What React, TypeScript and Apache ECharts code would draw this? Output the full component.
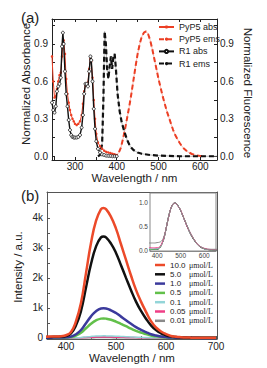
import React, { useEffect, useRef } from "react";
import * as echarts from "echarts";

// ---------- Panel (a) data ----------
const absX = [245, 248, 251, 254, 257, 260, 263, 266, 269, 271, 273, 276, 279, 282, 285, 288, 291, 294, 297, 300, 304, 308, 312, 316, 319, 322, 325, 328, 331, 334, 337, 339, 342, 345, 348, 351, 355, 360, 365, 370, 375, 380, 385, 390, 395, 400];
const pyp5Abs = [0.80, 0.60, 0.47, 0.48, 0.54, 0.60, 0.65, 0.67, 0.80, 0.90, 0.93, 0.82, 0.62, 0.50, 0.43, 0.37, 0.33, 0.30, 0.28, 0.26, 0.25, 0.26, 0.28, 0.33, 0.42, 0.52, 0.57, 0.58, 0.59, 0.70, 0.78, 0.76, 0.63, 0.45, 0.30, 0.18, 0.11, 0.08, 0.06, 0.045, 0.035, 0.03, 0.025, 0.02, 0.015, 0.01];
const r1Abs = [0.43, 0.37, 0.35, 0.40, 0.52, 0.56, 0.58, 0.63, 0.88, 0.99, 0.90, 0.68, 0.50, 0.40, 0.29, 0.21, 0.17, 0.155, 0.15, 0.15, 0.15, 0.155, 0.17, 0.23, 0.33, 0.50, 0.58, 0.58, 0.56, 0.68, 0.80, 0.77, 0.60, 0.38, 0.22, 0.12, 0.06, 0.03, 0.015, 0.01, 0.005, 0.003, 0.002, 0.0, 0.0, 0.0];

const r1EmsX = [355, 360, 365, 368, 371, 374, 377, 380, 383, 386, 389, 392, 395, 398, 402, 407, 412, 418, 425, 432, 440, 450, 460, 480, 500, 550, 600, 640];
const r1Ems = [0.0, 0.01, 0.1, 0.45, 1.0, 0.9, 0.7, 0.62, 0.72, 0.8, 0.7, 0.8, 0.82, 0.7, 0.5, 0.36, 0.27, 0.2, 0.13, 0.08, 0.05, 0.03, 0.02, 0.01, 0.005, 0.0, 0.0, 0.0];

const pyp5EmsX = [390, 400, 405, 410, 415, 420, 425, 430, 435, 440, 445, 450, 455, 460, 465, 470, 475, 480, 485, 490, 495, 500, 505, 510, 515, 520, 525, 530, 535, 540, 545, 550, 555, 560, 570, 580, 590, 600, 610];
const pyp5Ems = [0.0, 0.01, 0.03, 0.07, 0.14, 0.22, 0.31, 0.40, 0.50, 0.61, 0.72, 0.82, 0.90, 0.96, 0.99, 1.0, 0.98, 0.93, 0.86, 0.78, 0.70, 0.62, 0.55, 0.48, 0.42, 0.36, 0.31, 0.26, 0.21, 0.17, 0.14, 0.11, 0.085, 0.065, 0.035, 0.018, 0.008, 0.003, 0.0];

// ---------- Panel (b) data ----------
const emX = [360, 370, 380, 390, 400, 410, 420, 430, 440, 450, 460, 470, 475, 480, 490, 500, 510, 520, 530, 540, 550, 560, 570, 580, 590, 600, 610, 620, 630, 640, 650, 660, 670, 680, 690, 700];
const int10_0 = [40, 45, 50, 60, 90, 200, 560, 1170, 2160, 3160, 3900, 4290, 4330, 4290, 4030, 3640, 3120, 2600, 2080, 1600, 1210, 870, 560, 350, 215, 130, 65, 40, 25, 15, 10, 8, 6, 5, 5, 5];
const int5_0 = [30, 35, 40, 45, 65, 150, 420, 900, 1680, 2460, 3040, 3350, 3380, 3350, 3140, 2830, 2420, 2000, 1590, 1210, 900, 640, 420, 260, 155, 90, 50, 30, 20, 12, 8, 6, 5, 4, 4, 4];
const int1_0 = [10, 10, 12, 14, 20, 45, 125, 265, 490, 720, 890, 980, 990, 980, 920, 830, 710, 590, 470, 360, 270, 195, 125, 80, 48, 28, 15, 10, 6, 4, 3, 3, 2, 2, 2, 2];
const int0_5 = [7, 7, 8, 9, 13, 30, 82, 175, 322, 473, 585, 643, 650, 643, 605, 545, 468, 390, 310, 237, 178, 128, 82, 52, 32, 18, 10, 6, 4, 3, 3, 3, 3, 3, 3, 3];
const int0_1 = [2, 2, 2, 2, 2, 4, 9, 19, 35, 51, 63, 69, 70, 69, 65, 59, 50, 42, 34, 26, 20, 14, 9, 6, 4, 2, 1, 1, 0.5, 0.5, 0.5, 0.5, 0.5, 0.5, 0.5, 0.5];
const int0_05 = [1.5, 1.5, 1.5, 1.5, 1.6, 2.2, 4.5, 9, 16, 23, 29, 31.5, 32, 31.5, 29.5, 27, 23, 19, 15, 12, 9, 6.5, 4.2, 2.8, 1.8, 1.2, 0.8, 0.5, 0.4, 0.3, 0.3, 0.3, 0.3, 0.3, 0.3, 0.3];
const int0_01 = [1.8, 1.8, 1.8, 1.8, 1.9, 2.0, 2.4, 3.6, 6.0, 8.8, 10.8, 11.9, 12, 11.9, 11.1, 10.0, 8.6, 7.2, 5.8, 4.5, 3.4, 2.4, 1.6, 1.0, 0.7, 0.4, 0.2, 0.2, 0.2, 0.2, 0.2, 0.2, 0.2, 0.2, 0.2, 0.2];

const concNames = ["10.0", "5.0", "1.0", "0.5", "0.1", "0.05", "0.01"];
const concSeries = [int10_0, int5_0, int1_0, int0_5, int0_1, int0_05, int0_01];
const concColors = ["#ec4a2a", "#111111", "#3b3a9c", "#62c04a", "#93d5d8", "#ef3f86", "#8a8a8a"];

// tick labels
const aXLabels = [300, 400, 500, 600];
const aXTicks = [250, 300, 350, 400, 450, 500, 550, 600];
const aYLabels = [0, 0.3, 0.6, 0.9];
const aYTicks = [0, 0.15, 0.3, 0.45, 0.6, 0.75, 0.9, 1.05];
const bXLabels = [400, 500, 600, 700];
const bXTicks = [400, 450, 500, 550, 600, 650, 700];
const bYLabels = [0, 1000, 2000, 3000, 4000];
const bYTicks = [0, 500, 1000, 1500, 2000, 2500, 3000, 3500, 4000, 4500];
const inXLabels = [400, 500, 600];
const inYLabels = [0, 0.5, 1.0];

const FONT = "Liberation Sans";
const AX = "#222";
const BX = "#555";

function pairs(xs: number[], ys: number[]) {
  return xs.map((x, i) => [x, ys[i]]);
}

export default function App() {
  const ref = useRef<HTMLDivElement>(null);
  useEffect(() => {
    const chart = echarts.init(ref.current!, undefined, { renderer: "svg" });

    const axBase = (extra: any) => ({
      type: "value",
      splitLine: { show: false },
      nameMoveOverlap: false,
      axisLine: { show: true, onZero: false, lineStyle: { color: AX, width: 1 } },
      ...extra,
    });

    const series: any[] = [
      {
        name: "PyP5 abs", type: "line", xAxisIndex: 0, yAxisIndex: 0,
        data: pairs(absX, pyp5Abs), symbol: "circle", symbolSize: 2.5, showSymbol: true,
        itemStyle: { color: "#ec3f24" }, lineStyle: { color: "#ec3f24", width: 1 }, z: 3,
      },
      {
        name: "PyP5 ems thin", type: "line", xAxisIndex: 0, yAxisIndex: 1,
        data: pairs(pyp5EmsX, pyp5Ems), symbol: "none", silent: true,
        lineStyle: { color: "#f08a7a", width: 0.6 }, z: 1,
      },
      {
        name: "PyP5 ems", type: "line", xAxisIndex: 0, yAxisIndex: 1,
        data: pairs(pyp5EmsX, pyp5Ems), symbol: "none",
        itemStyle: { color: "#ec3f24" }, lineStyle: { color: "#ec3f24", width: 2, type: [5, 3] }, z: 2,
      },
      {
        name: "R1 abs", type: "line", xAxisIndex: 0, yAxisIndex: 0,
        data: pairs(absX, r1Abs), symbol: "circle", symbolSize: 3, showSymbol: true,
        itemStyle: { color: "#fff", borderColor: "#111", borderWidth: 0.8 }, lineStyle: { color: "#111", width: 1.4 }, z: 4,
      },
      {
        name: "R1 ems thin", type: "line", xAxisIndex: 0, yAxisIndex: 1,
        data: pairs(r1EmsX, r1Ems), symbol: "none", silent: true,
        lineStyle: { color: "#888", width: 0.6 }, z: 1,
      },
      {
        name: "R1 ems", type: "line", xAxisIndex: 0, yAxisIndex: 1,
        data: pairs(r1EmsX, r1Ems), symbol: "none",
        itemStyle: { color: "#111" }, lineStyle: { color: "#111", width: 2.2, type: [5, 3] }, z: 2,
      },
    ];

    concNames.forEach((n, k) => {
      series.push({
        name: n, type: "line", xAxisIndex: 2, yAxisIndex: 2,
        data: pairs(emX, concSeries[k]), symbol: "none", smooth: true,
        itemStyle: { color: concColors[k] },
        lineStyle: { color: concColors[k], width: k < 4 ? 2.5 : 1.5 },
        z: 10 - k,
      });
    });
    concNames.forEach((n, k) => {
      const arr = concSeries[k];
      const mx = Math.max(...arr);
      series.push({
        name: "inset " + n, type: "line", xAxisIndex: 4, yAxisIndex: 4,
        data: emX.map((x, i) => [x, arr[i] / mx]), symbol: "none", smooth: true,
        lineStyle: { color: concColors[k], width: 1 }, z: 20 + k,
      });
    });

    const nameText = (text: string, x: number, y: number, rot: number) => ({
      type: "text", x, y, rotation: rot, z: 50,
      style: { text, fill: AX, font: `11.5px "${FONT}"`, align: "center", verticalAlign: "middle", textAlign: "center", textVerticalAlign: "middle" },
    });

    chart.setOption({
      animation: false,
      textStyle: { fontFamily: FONT },
      title: [
        { text: "(a)", left: 16, top: 5, textStyle: { fontSize: 15, fontWeight: "normal", color: "#222", fontFamily: FONT } },
        { text: "(b)", left: 16, top: 183, textStyle: { fontSize: 15, fontWeight: "normal", color: "#222", fontFamily: FONT } },
      ],
      graphic: [
        nameText("Normalized Absorbance", 26, 84, Math.PI / 2),
        nameText("Normalized Fluorescence", 247.5, 93, -Math.PI / 2),
        nameText("Intensity / a.u.", 18, 267, Math.PI / 2),
      ],
      grid: [
        { left: 52, top: 19, width: 165, height: 141 },
        { left: 47, top: 192, width: 170, height: 147 },
        { left: 150, top: 193, width: 66, height: 58, show: true, backgroundColor: "#fff", borderColor: "#888", borderWidth: 1, z: 5 },
      ],
      xAxis: [
        axBase({
          gridIndex: 0, position: "bottom", min: 245, max: 640,
          axisTick: { show: true, inside: true, length: 3, customValues: aXTicks, lineStyle: { color: AX } },
          axisLabel: { customValues: aXLabels, fontSize: 10, lineHeight: 10, margin: 1, color: AX, fontFamily: FONT },
          name: "Wavelength / nm", nameLocation: "middle", nameGap: 12,
          nameTextStyle: { fontSize: 11.5, lineHeight: 11, color: AX, fontFamily: FONT, verticalAlign: "top" },
        }),
        axBase({
          gridIndex: 0, position: "top", min: 245, max: 640,
          axisTick: { show: true, inside: true, length: 3, customValues: aXTicks, lineStyle: { color: AX } },
          axisLabel: { show: false },
        }),
        axBase({
          gridIndex: 1, position: "bottom", min: 362, max: 702,
          axisLine: { show: true, onZero: false, lineStyle: { color: BX, width: 1 } },
          axisTick: { show: true, inside: true, length: 3, customValues: bXTicks, lineStyle: { color: BX } },
          axisLabel: { customValues: bXLabels, fontSize: 10, lineHeight: 10, margin: 2, color: AX, fontFamily: FONT },
          name: "Wavelength / nm", nameLocation: "middle", nameGap: 13,
          nameTextStyle: { fontSize: 11.5, lineHeight: 11, color: AX, fontFamily: FONT, verticalAlign: "top" },
        }),
        axBase({
          gridIndex: 1, position: "top", min: 362, max: 702,
          axisLine: { show: true, onZero: false, lineStyle: { color: BX, width: 1 } },
          axisTick: { show: false }, axisLabel: { show: false },
        }),
        axBase({
          gridIndex: 2, position: "bottom", min: 370, max: 650,
          axisLine: { show: true, onZero: false, lineStyle: { color: "#888", width: 1 } },
          axisTick: { show: true, inside: true, length: 2, customValues: inXLabels, lineStyle: { color: "#888" } },
          axisLabel: { customValues: inXLabels, fontSize: 6.5, lineHeight: 7, margin: 1, color: "#444", fontFamily: FONT },
        }),
      ],
      yAxis: [
        axBase({
          gridIndex: 0, position: "left", min: -0.03, max: 1.1,
          axisTick: { show: true, inside: true, length: 3, customValues: aYTicks, lineStyle: { color: AX } },
          axisLabel: { customValues: aYLabels, fontSize: 10, margin: 4, color: AX, fontFamily: FONT, formatter: (v: number) => v.toFixed(1) },
        }),
        axBase({
          gridIndex: 0, position: "right", min: -0.03, max: 1.1,
          axisTick: { show: true, inside: true, length: 3, customValues: aYTicks, lineStyle: { color: AX } },
          axisLabel: { customValues: aYLabels, fontSize: 10, margin: 3, color: AX, fontFamily: FONT, formatter: (v: number) => v.toFixed(1) },
        }),
        axBase({
          gridIndex: 1, position: "left", min: -35, max: 4860,
          axisLine: { show: true, onZero: false, lineStyle: { color: BX, width: 1 } },
          axisTick: { show: true, inside: true, length: 3, customValues: bYTicks, lineStyle: { color: BX } },
          axisLabel: { customValues: bYLabels, fontSize: 10, margin: 4, color: AX, fontFamily: FONT, formatter: (v: number) => (v === 0 ? "0" : v / 1000 + "k") },
        }),
        axBase({
          gridIndex: 1, position: "right", min: -35, max: 4860,
          axisLine: { show: true, onZero: false, lineStyle: { color: BX, width: 1 } },
          axisTick: { show: false }, axisLabel: { show: false },
        }),
        axBase({
          gridIndex: 2, position: "left", min: -0.02, max: 1.21,
          axisLine: { show: true, onZero: false, lineStyle: { color: "#888", width: 1 } },
          axisTick: { show: true, inside: true, length: 2, customValues: inYLabels, lineStyle: { color: "#888" } },
          axisLabel: { customValues: inYLabels, fontSize: 6.5, margin: 2, color: "#444", fontFamily: FONT, formatter: (v: number) => v.toFixed(1) },
        }),
      ],
      legend: [
        {
          data: ["PyP5 abs", "PyP5 ems", "R1 abs", "R1 ems"],
          orient: "vertical", left: 153, top: 17, itemWidth: 15, itemHeight: 4, itemGap: 2.2,
          textStyle: { fontSize: 9, color: AX, fontFamily: FONT, lineHeight: 10 },
        },
        {
          data: concNames,
          orient: "vertical", left: 150, top: 256, itemWidth: 10, itemHeight: 2.5, itemGap: 1.3, icon: "rect",
          formatter: (n: string) => `{a|${n}}{b|μmol/L}`,
          textStyle: {
            color: AX,
            rich: {
              a: { fontSize: 8, fontFamily: FONT, width: 19, color: AX, lineHeight: 9 },
              b: { fontSize: 8, fontFamily: "Liberation Serif", color: AX, lineHeight: 9 },
            },
          },
        },
      ],
      series,
    });
    return () => chart.dispose();
  }, []);
  return <div ref={ref} style={{ width: 267, height: 368, position: "absolute", left: 0, top: 0 }} />;
}
